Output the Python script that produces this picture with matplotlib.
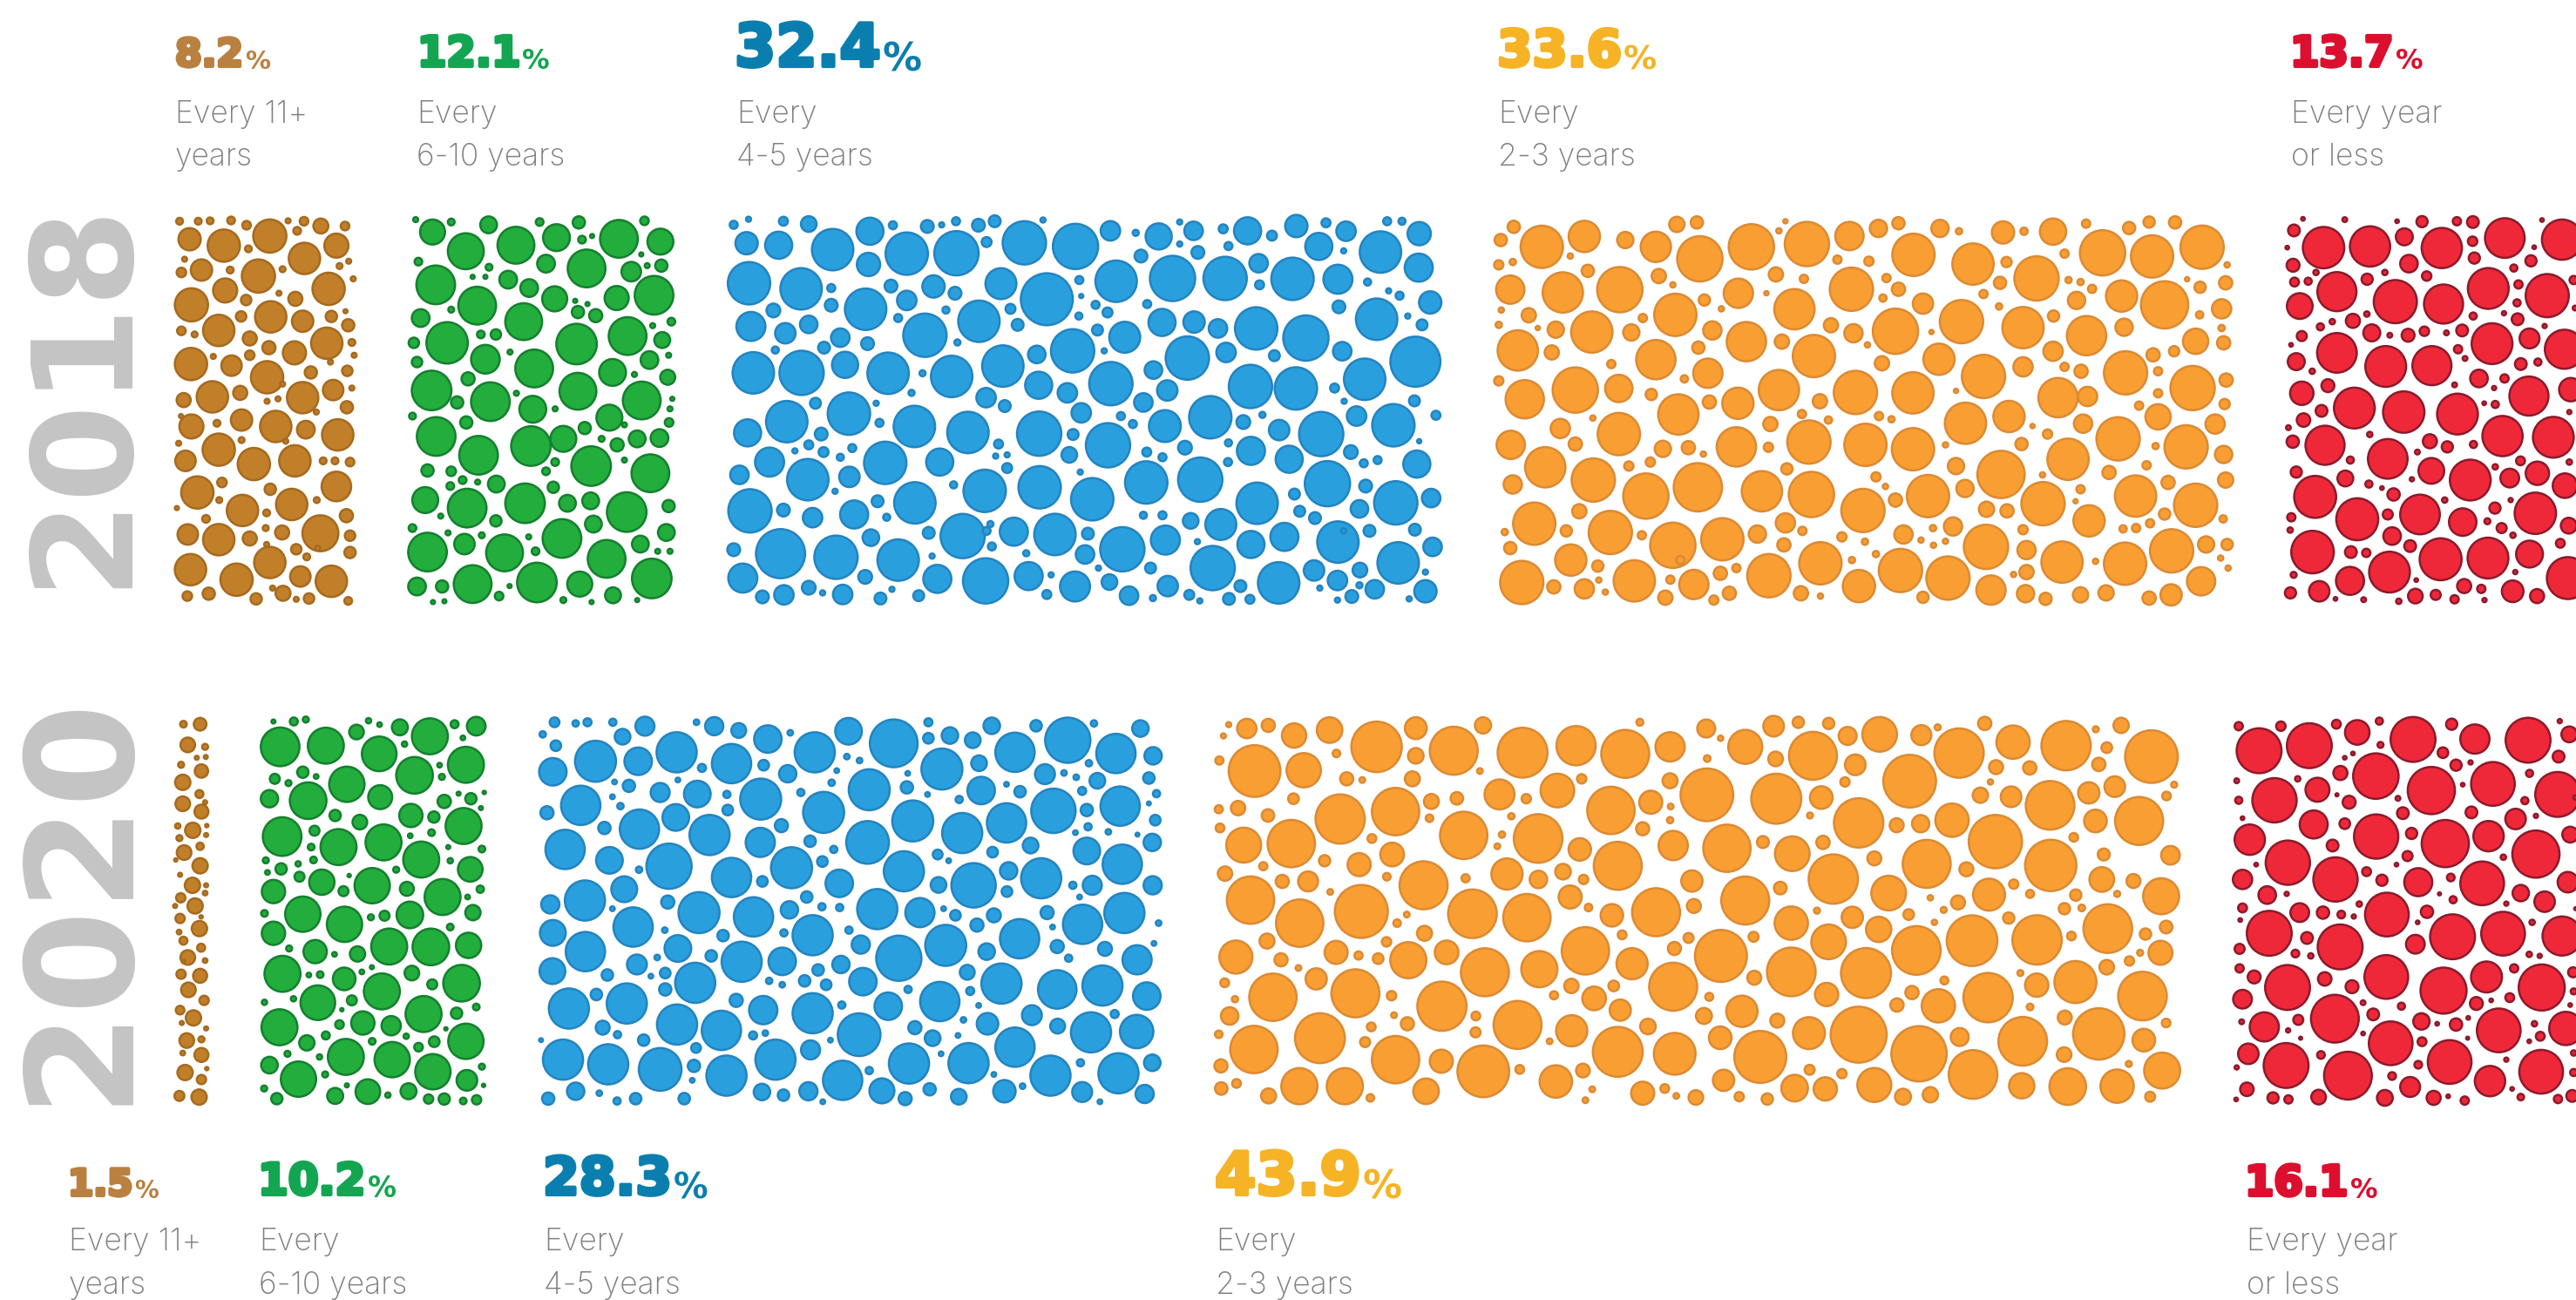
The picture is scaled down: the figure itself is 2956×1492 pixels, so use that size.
"""Bubble blocks: how often people do it, 2018 vs 2020."""
import matplotlib
matplotlib.use("Agg")
import matplotlib.pyplot as plt
import matplotlib.patheffects as pe

W, H = 2956, 1492
PX = 0.72  # points per pixel at dpi 100

# bubbles: (x, y, diameter) in crop units
brown_2018 = [(394,553,12),(435,553,12),(461,552,12),(507,551,14),(541,563,16),(632,552,8),(667,553,16),(704,565,30),(757,565,16),
(416,598,46),(491,614,68),(592,590,70),(652,577,14),(738,614,50),(668,646,66),(545,622,12),(405,648,8),
(442,675,44),(398,681,18),(567,690,70),(505,675,12),(620,673,10),(721,722,68),(745,665,10),(765,653,8),(775,697,8),
(494,726,50),(420,762,70),(540,750,20),(648,747,28),(612,733,8),(594,792,66),(529,791,20),(664,803,44),(727,791,22),(764,813,24),(758,778,6),
(480,826,66),(398,827,16),(427,836,10),(548,846,28),(717,858,66),(590,869,26),(646,882,48),(772,856,12),(777,888,8),
(419,910,68),(508,914,42),(548,888,18),(586,943,68),(468,891,8),(682,931,24),(762,927,20),(725,905,8),
(466,992,66),(403,1000,28),(527,982,28),(664,994,66),(731,975,42),(772,970,8),(620,960,8),(586,1003,8),(610,997,8),(761,1018,24),
(420,1066,50),(530,1050,44),(605,1066,66),(476,1058,12),(671,1074,36),(741,1087,66),(694,1030,8),(397,1040,6),(392,1108,8),
(480,1124,68),(407,1152,42),(557,1160,68),(647,1152,66),(530,1100,10),(709,1152,12),(735,1152,12),(768,1155,16),(627,1103,8),
(433,1231,68),(487,1206,18),(593,1223,22),(738,1216,62),(532,1276,66),(640,1261,66),(481,1250,10),(695,1250,10),(388,1270,6),(585,1282,12),(760,1289,26),
(452,1297,14),(412,1336,42),(480,1349,66),(548,1346,28),(619,1331,28),(703,1333,76),(583,1320,10),(768,1339,20),(768,1381,22),(650,1373,20),(585,1361,8),
(418,1424,66),(519,1449,68),(592,1406,66),(659,1441,42),(727,1453,66),(673,1392,12),(697,1370,8),
(411,1490,18),(458,1484,24),(562,1497,22),(621,1483,30),(678,1496,20),(764,1502,14),(650,1498,8),(598,1470,8)]

green_2018 = [(912,549,8),(949,580,52),(990,555,12),(1072,562,34),(1184,555,14),(1270,556,24),(1414,552,16),(1022,628,76),(1132,613,78),(1221,594,56),(1277,599,14),(1358,597,80),(1449,604,54),(1299,590,6),
(918,654,14),(956,712,82),(1198,659,36),(1287,671,80),(1385,679,40),(1451,664,24),(1420,664,8),(1407,636,6),(1073,668,12),
(1115,699,36),(1161,720,36),(1037,692,6),(1065,692,6),(1047,764,80),(1217,747,52),(1353,745,50),(1435,738,82),(990,774,10),
(1149,804,78),(923,795,36),(1268,780,24),(1307,789,26),(1262,752,6),(1289,760,6),(1377,840,80),
(1055,836,14),(1088,836,20),(981,857,88),(1265,860,86),(908,857,20),(1453,850,32),(1473,804,14),(1432,814,8),(1065,898,60),(1172,921,80),(1119,880,8),(1425,900,36),(915,905,20),(1467,888,8),(1344,931,56),(1027,947,26),
(947,976,84),(1465,943,30),(1392,936,8),(1076,1004,82),(1268,978,78),(1408,1001,80),(1003,1006,24),(1169,1023,56),(1133,983,8),(1475,997,6),(1470,1022,8),
(1337,1044,54),(1023,1056,24),(957,1091,82),(905,1040,12),(1468,1056,16),(1218,1022,8),(1283,1070,24),(1236,1097,54),(1165,1115,84),(1050,1138,82),(1354,1112,26),(1398,1097,34),(1447,1095,36),(1320,1097,10),(1370,1062,8),
(1297,1165,84),(1427,1183,80),(1218,1155,14),(1370,1150,8),(1198,1178,14),(938,1176,24),(990,1178,18),(1015,1200,14),(1089,1210,34),(988,1215,14),(1214,1218,22),(1048,1205,8),
(933,1250,54),(1025,1270,82),(1152,1258,84),(1245,1258,34),(1296,1252,34),(1375,1280,84),(1467,1265,24),(1088,1302,22),(967,1290,8),(1302,1310,34),(1233,1346,82),
(905,1320,14),(1019,1360,42),(938,1380,82),(1107,1382,78),(983,1332,8),(1057,1338,10),(1175,1378,14),(1331,1397,80),(1462,1331,34),(1405,1360,34),(1160,1342,8),(1443,1378,8),(1470,1378,8),
(1037,1460,80),(1178,1456,84),(915,1466,36),(970,1466,24),(1272,1460,52),(1430,1446,84),(1345,1488,32),(1095,1490,16),(1118,1465,6),(1236,1500,10),(975,1503,6),(950,1505,6),(1398,1500,6),(1298,1505,6)]

blue_2018 = [(40,562,14),(71,548,8),(144,553,16),(197,560,30),(325,578,54),(373,563,14),(445,566,24),(475,562,8),(505,553,14),(552,563,24),(586,553,22),(687,550,8),(67,608,44),(134,613,54),(247,624,84),(402,634,86),(506,633,90),(322,661,46),(569,605,18),(648,607,88),(755,616,92),(828,577,38),(881,582,10),(929,591,52),(973,555,8),(1002,577,36),(973,610,8),(1011,631,24),(892,640,24),(1064,572,16),(1115,577,54),(1166,589,18),(1075,615,14),(1217,565,44),(1279,557,16),(1321,578,38),(1407,553,14),(1438,553,12),(1474,584,46),(1264,616,54),(1316,627,8),(1393,630,84),
(72,708,86),(181,722,84),(244,720,14),(369,715,24),(458,716,44),(599,709,62),(695,748,106),(503,733,24),(763,700,14),(840,703,84),(958,696,92),(1068,696,88),(1138,658,36),(1140,712,16),(1209,697,86),(1304,698,58),(1473,669,56),(1366,705,12),(1410,727,8),(1433,739,14),
(244,763,24),(316,773,84),(402,751,38),(123,776,26),(76,816,58),(148,833,40),(197,811,34),(384,795,14),(484,775,12),(440,838,88),(553,803,84),(619,772,18),(634,812,22),(767,740,6),(762,790,12),(797,762,14),(822,781,18),(905,760,14),(1306,767,24),(1385,798,84),(1497,756,44),(1450,790,8),(1480,812,20),
(263,844,36),(320,859,24),(229,869,22),(127,875,12),(508,856,10),(801,825,20),(858,843,62),(749,877,88),(815,877,8),(936,806,54),(1003,805,42),(1053,821,36),(1133,821,86),(1237,845,92),(1070,881,38),(989,895,88),(1171,889,20),(1313,878,36),(1466,904,102),
(81,932,84),(182,932,90),(273,912,52),(363,933,84),(603,915,84),(674,886,34),(496,941,84),(435,933,10),(678,963,54),(829,959,88),(918,925,34),(947,976,40),(738,982,38),(1121,966,88),(1216,971,86),(1297,970,16),(1360,948,84),(412,982,10),
(568,994,38),(607,1015,22),(211,1008,20),(338,1008,8),(897,1006,36),(1317,1003,8),(1464,1002,20),(767,1032,38),(1037,1043,86),(850,1040,14),(875,1060,14),(942,1065,64),(1106,1055,26),(1146,1037,10),(1181,1075,40),(1269,1085,90),(1343,1040,38),(1420,1063,86),(1509,1038,16),
(151,1054,84),(281,1034,86),(69,1082,54),(345,1057,14),(418,1066,84),(530,1081,84),(679,1084,90),(823,1113,90),(750,1086,20),(223,1085,24),(984,1119,26),(1075,1107,12),(1474,1103,6),
(197,1112,16),(228,1130,18),(168,1127,8),(288,1120,14),(263,1143,12),(594,1110,16),(588,1140,8),(612,1137,8),(742,1137,30),(904,1130,16),(937,1143,14),(1122,1127,56),(1202,1148,54),(1331,1130,26),(1387,1150,14),(1358,1158,14),(1469,1160,54),
(115,1155,58),(357,1157,86),(471,1155,54),(52,1187,36),(195,1199,84),(282,1192,40),(612,1170,18),(765,1180,8),(1074,1155,14),(903,1206,86),(1016,1199,90),(1282,1209,92),(565,1227,86),(680,1218,86),(790,1248,86),(500,1212,12),(252,1228,8),(1362,1215,24),(1213,1235,20),
(74,1277,88),(419,1257,84),(1135,1258,84),(1425,1257,88),(1499,1245,36),(341,1253,22),(144,1275,24),(205,1294,38),(292,1286,56),(1349,1272,34),(1224,1278,20),(1256,1295,22),(360,1293,12),(897,1288,12),(937,1288,14),(996,1302,30),(1059,1311,62),
(448,1332,22),(519,1340,90),(577,1310,10),(626,1329,56),(712,1336,84),(327,1344,32),(781,1334,22),(569,1327,14),(1304,1355,84),(1192,1342,56),(1370,1327,22),(1465,1324,22),(1316,1327,8),(943,1350,58),(853,1373,90),(1122,1361,54),(1010,1354,8),
(40,1374,24),(138,1384,100),(254,1393,88),(384,1400,84),(580,1366,14),(1502,1367,36),(652,1383,10),(775,1386,36),(455,1390,8),(1042,1420,90),(1430,1407,84),
(59,1445,58),(315,1442,26),(466,1447,56),(567,1452,92),(657,1440,56),(754,1466,60),(912,1420,20),(803,1420,8),(704,1437,8),(1180,1457,84),(1254,1426,40),(1303,1451,38),(1350,1425,28),(826,1455,30),(948,1465,40),(1100,1465,22),(1487,1430,8),
(100,1492,24),(145,1487,38),(197,1469,26),(226,1482,8),(268,1486,38),(347,1496,22),(371,1473,8),(427,1489,20),(695,1486,16),(867,1489,36),(917,1495,10),(993,1487,18),(1015,1502,8),(1076,1497,22),(1120,1498,16),(1349,1463,10),(1381,1473,36),(1333,1491,24),(1303,1500,8),(1266,1470,8),(1487,1478,44),(1453,1497,8)]

orange_2018 = [(82,567,22),(56,600,22),(138,617,82),(223,591,60),(305,600,30),(366,617,58),(408,561,28),(448,556,22),(454,647,88),(557,617,88),(668,610,86),(612,577,8),(625,553,6),(753,590,54),(811,571,32),(851,558,22),(881,637,82),(934,571,32),(972,578,10),(1000,660,80),(1060,581,42),(1102,578,12),(1160,579,50),(1226,559,14),(1259,632,88),(1312,570,22),(1352,555,20),(1404,556,22),(1358,641,82),(1458,618,84),
(52,662,16),(80,655,10),(75,724,54),(180,731,78),(294,724,88),(230,677,22),(372,690,26),(606,686,26),(662,697,14),(729,649,14),(792,653,16),(757,723,84),(1067,655,18),(1127,696,86),(1183,634,14),(1054,707,22),(827,695,14),(851,723,24),(820,745,12),(1191,700,10),(1215,705,10),(1238,722,14),(1297,740,60),(1383,762,92),(1454,718,20),(1505,707,24),(1508,662,8),(1428,698,6),(400,712,8),
(531,733,56),(463,750,20),(405,787,82),(643,773,78),(900,759,38),(977,804,84),(1021,735,14),(1052,766,10),(1207,751,32),(1497,772,36),(1453,787,12),(195,640,8),(497,772,8),(587,733,6),(57,775,8),
(112,788,26),(238,830,80),(166,824,30),(317,831,30),(340,795,14),(479,826,34),(547,854,76),(716,813,26),(761,833,34),(845,828,88),(1100,819,80),(1227,839,76),(1161,790,20),(1302,818,32),(917,830,6),(130,820,6),(52,812,10),
(90,876,78),(158,881,26),(366,899,76),(451,869,22),(618,854,26),(682,890,82),(789,862,8),(1445,853,48),(1501,857,24),(1497,820,10),(1160,878,36),(932,898,60),(1021,941,84),(1100,917,36),(818,908,26),(1402,878,18),(1360,887,24),(470,933,56),(277,910,14),(1183,917,14),(1216,928,24),(1305,932,84),(1370,928,14),
(52,952,16),(205,975,88),(104,998,74),(292,971,52),(423,947,12),(612,975,78),(765,981,84),(880,982,80),(1170,994,76),(1439,970,86),(1506,950,24),(357,986,20),(1370,983,14),(966,977,6),
(411,1036,78),(530,1008,60),(473,1005,24),(694,1003,26),(1229,991,36),(1503,1010,18),(1332,1014,14),(1370,1042,48),(240,1045,8),(658,1035,14),(812,1040,14),(837,1048,10),(711,1050,12),(985,1058,80),(1072,1041,60),
(175,1071,36),(292,1085,82),(595,1060,26),(1220,1059,34),(1290,1097,84),(1484,1060,36),(1119,1065,6),
(76,1112,54),(205,1110,24),(380,1122,30),(431,1119,24),(461,1135,8),(527,1117,76),(591,1118,16),(672,1105,84),(785,1112,82),(880,1123,82),(1149,1085,16),(1097,1110,22),(945,1112,8),(1426,1117,84),(1365,1115,10),
(145,1168,78),(241,1200,84),(312,1165,16),(355,1155,16),(346,1240,88),(450,1218,94),(1190,1148,80),(966,1165,30),(1056,1186,92),(1501,1136,32),(1347,1163,14),(1139,1187,8),(628,1172,20),(1272,1181,24),
(80,1211,34),(578,1228,78),(677,1236,88),(806,1192,16),(825,1216,8),(910,1240,82),(984,1221,32),(1140,1259,84),(1325,1240,80),(1390,1206,24),(1505,1200,28),(1215,1223,14),(1205,1253,6),(1445,1263,84),
(123,1309,82),(213,1278,26),(780,1276,84),(845,1250,24),(1027,1273,28),(1068,1277,24),(1232,1302,60),(1383,1285,20),(1500,1297,12),
(275,1331,84),(187,1327,20),(400,1363,88),(499,1348,82),(625,1307,36),(659,1327,14),(569,1335,32),(338,1338,14),(64,1330,10),(960,1316,34),(920,1320,10),(861,1336,34),(1026,1367,86),(1100,1324,16),(1300,1322,12),(1326,1320,14),(1354,1308,14),(738,1342,16),
(75,1370,22),(196,1400,60),(622,1362,24),(784,1354,10),(806,1385,10),(896,1350,8),(921,1363,8),(945,1353,8),(695,1408,82),(1107,1375,34),(1178,1405,80),(1397,1377,84),(1304,1409,82),(1466,1361,30),(1508,1361,20),
(98,1456,84),(250,1415,20),(323,1452,80),(415,1400,14),(442,1461,56),(495,1433,24),(527,1420,14),(592,1439,84),(855,1426,84),(950,1445,84),(772,1465,62),(758,1400,10),(1107,1430,26),(1495,1395,8),(1245,1403,8),(1510,1420,8),(1081,1436,8),
(162,1467,24),(223,1472,36),(252,1450,8),(265,1480,8),(395,1449,14),(385,1494,26),(482,1500,16),(513,1483,24),(656,1483,26),(695,1490,8),(900,1493,20),(1036,1475,56),(1105,1484,32),(1145,1497,22),(1215,1487,28),(1266,1482,28),(1352,1495,24),(1396,1487,40),(1456,1453,54)]

red_2018 = [(158,547,8),(302,549,12),(127,576,36),(229,619,138),(389,616,134),(507,592,54),(636,620,134),(853,595,132),(1050,599,134),(568,554,34),(482,553,8),(688,553,24),(743,555,36),(742,603,28),(981,550,8),(104,619,8),(954,618,8),(124,663,40),(523,659,56),(748,645,34),(943,652,34),(884,670,20),
(129,705,26),(176,703,20),(203,681,14),(275,729,130),(379,698,34),(440,681,14),(584,690,28),(476,754,144),(642,760,130),(796,721,136),(900,711,24),(999,739,144),(1090,700,24),(147,765,84),(378,785,14),(744,790,20),(895,757,20),(850,783,10),(897,798,36),(1095,770,12),
(218,817,20),(259,804,14),(330,802,44),(395,832,54),(457,838,12),(520,838,40),(576,828,28),(652,832,12),(706,826,36),(154,840,30),(275,882,132),(443,916,136),(602,914,130),(809,859,136),(938,846,64),(990,815,10),(1058,873,130),(117,862,8),(692,873,24),(135,904,54),(716,896,12),
(190,928,14),(908,910,36),(967,905,20),(764,946,56),(852,946,24),(244,964,40),(154,983,76),(680,962,12),(816,970,10),(936,990,130),(1080,974,76),
(335,1020,136),(505,1030,138),(690,1035,136),(222,1027,36),(160,1050,42),(820,1011,20),(782,1008,8),(1075,1030,10),(108,1069,12),(123,1104,38),(234,1113,130),(388,1086,14),(450,1147,132),(595,1103,44),(655,1117,34),(745,1111,20),(845,1090,134),(1020,1093,136),(552,1130,12),
(135,1180,34),(321,1150,20),(304,1196,50),(385,1210,20),(600,1177,84),(734,1200,136),(820,1167,14),(870,1195,60),(965,1183,76),(907,1152,26),(1075,1155,14),(1060,1214,80),(430,1220,8),(533,1198,10),
(200,1242,140),(470,1236,38),(345,1298,140),(561,1286,132),(450,1286,30),(646,1250,14),(873,1250,10),(708,1305,90),(819,1270,34),(958,1283,138),(793,1303,16),(842,1320,30),(1073,1314,50),(118,1293,24),(114,1325,14),
(191,1380,142),(465,1340,56),(527,1365,36),(881,1338,14),(323,1380,36),(376,1382,24),(1044,1358,26),(632,1398,140),(795,1395,136),(938,1385,88),(1070,1445,140),(456,1430,136),(320,1452,92),
(126,1437,16),(115,1482,34),(214,1478,66),(270,1497,8),(367,1499,12),(488,1503,14),(545,1490,46),(615,1487,30),(548,1450,8),(680,1498,24),(713,1465,44),(772,1472,24),(783,1500,10),(880,1478,70),(964,1490,44),(889,1430,10)]

brown_2020 = [(550,92,16),(600,92,34),(563,145,40),(615,150,14),(590,178,8),(617,176,8),(604,212,36),(543,196,14),(548,241,42),(598,271,20),(548,296,40),(604,316,38),(615,292,8),(578,364,42),(533,353,12),(538,384,14),(620,352,6),(618,376,8),(552,421,40),(600,405,18),(527,440,6),(600,455,42),(540,478,8),(577,505,42),(618,505,8),(542,537,24),(615,525,10),(585,558,42),(525,558,8),(540,590,24),(598,616,42),(603,586,6),(550,647,20),(537,625,10),(603,665,20),(563,690,40),(615,698,10),(543,733,24),(600,737,38),(565,773,40),(550,700,6),(612,800,24),(540,825,22),(580,845,42),(545,858,8),(618,872,8),(560,903,40),(604,900,14),(548,935,10),(604,940,38),(555,985,42),(604,1003,24),(538,1045,26),(597,1048,42),(620,975,6)]

green_2020 = [(820,85,8),(881,85,20),(917,80,14),(840,150,112),(977,147,104),(1069,112,40),(1105,83,12),(1138,93,10),(1199,100,44),(1289,123,104),(1363,92,20),(1428,97,52),(1388,127,10),(1137,168,100),(1213,143,12),(1397,196,104),(1243,223,106),(1318,197,10),(1325,227,14),(824,232,26),(908,215,30),(948,226,10),(865,243,14),(1040,246,102),(1140,279,68),(808,283,48),(924,288,106),(1332,290,36),(1412,283,30),(1375,270,8),(1452,267,6),(1442,307,8),(1005,326,30),(1079,343,40),(1232,326,66),(1301,330,30),(1390,353,104),(846,380,112),(1015,407,104),(1150,395,104),(943,365,26),(1230,378,10),(1294,370,16),(933,407,16),(1344,407,8),(1263,439,104),(1445,412,16),(1188,465,14),(797,441,14),(894,450,12),(940,440,16),(843,463,30),(802,472,10),(1350,442,12),(1410,464,70),(898,483,26),(965,497,72),(1116,506,102),(1047,480,6),(1030,520,26),(1220,514,38),(1327,535,104),(1440,515,18),(820,521,66),(1402,535,10),(908,579,102),(793,577,16),(1033,605,102),(1112,587,14),(1153,583,26),(1229,581,76),(1418,575,42),(1350,612,16),(820,628,66),(1167,662,104),(1292,663,106),(1405,659,72),(867,667,14),(945,675,66),(1003,682,10),(1072,681,42),(847,732,104),(926,735,10),(960,734,16),(1032,745,64),(1115,715,8),(1085,727,10),(1235,730,40),(1296,759,26),(1384,756,106),(1145,777,104),(880,796,12),(793,805,12),(953,806,100),(1055,800,26),(1025,824,6),(838,869,104),(1088,858,66),(1018,862,22),(1173,865,54),(1270,835,104),(1369,833,30),(1428,817,16),(1337,873,6),(1397,905,102),(977,890,20),(920,909,42),(1218,892,12),(1116,905,16),(1255,920,22),(1302,906,28),(862,937,14),(958,945,12),(1037,945,104),(1176,952,102),(808,966,46),(1298,983,102),(1445,970,14),(895,1002,102),(975,990,14),(1400,1005,58),(792,1026,14),(1040,1018,8),(1103,1034,70),(830,1052,30),(1005,1045,44),(1163,1043,12),(1225,1033,44),(1285,1053,24),(1332,1053,30),(1389,1058,16),(1429,1055,24),(1450,1018,6)]

blue_2020 = [(75,87,20),(125,90,12),(153,87,16),(213,87,14),(289,97,42),(236,124,34),(47,118,12),(78,147,22),(411,87,10),(453,97,40),(511,108,32),(633,114,10),(580,130,62),(771,110,60),(878,141,110),(960,87,16),(960,128,22),(1011,121,36),(1065,133,34),(1110,96,36),(1215,96,24),(1290,133,104),(1352,90,12),(1462,103,36),(1165,164,90),(1404,167,90),(172,187,94),(364,164,92),(71,214,62),(273,187,62),(494,193,90),(691,164,92),(767,175,10),(797,185,10),(570,197,22),(424,204,16),(627,219,38),(1492,173,38),(992,207,94),(1080,192,34),(1340,192,12),(1236,220,44),(1281,217,10),(1310,228,10),(1360,237,34),(1482,230,24),(743,211,8),(911,218,8),
(217,240,8),(251,250,26),(367,235,8),(731,242,12),(820,260,94),(909,254,26),(1085,262,62),(1145,246,8),(1177,265,24),(958,272,8),(1033,285,14),(1324,263,16),(1500,270,14),(325,267,42),(413,271,60),(483,272,14),(563,284,94),(658,267,14),(137,300,90),(212,278,8),(231,302,12),(712,318,94),(1256,314,102),(1414,302,90),(1335,312,26),(1482,295,6),(57,319,28),(485,312,22),(362,331,60),(923,340,94),(1145,345,90),(276,361,90),(193,358,26),(1040,371,92),(612,352,28),(1338,355,14),(1497,338,22),(1308,370,8),(1386,368,10),(1455,375,6),
(442,376,92),(562,395,66),(816,395,98),(680,392,24),(100,413,90),(1202,403,34),(1490,395,38),(1335,417,60),(1112,420,22),(736,413,14),(982,426,20),(205,441,60),(346,456,104),(636,460,94),(709,444,22),(902,469,92),(1008,442,8),(1419,451,90),(1150,468,38),(1227,487,92),(275,465,12),(494,485,90),(1067,505,102),(567,495,22),(749,500,62),(984,504,34),(1146,521,22),
(240,515,58),(1491,505,40),(1302,505,14),(1348,505,42),(147,544,92),(65,554,40),(343,548,28),(839,566,92),(1318,535,8),(1424,576,92),(672,535,24),(417,575,94),(546,586,90),(631,568,38),(708,560,14),(750,562,14),(940,575,66),(212,565,8),(996,565,8),(1024,582,22),(1115,582,30),(1241,575,28),(1254,612,8),(1325,605,90),(1505,602,10),
(261,612,90),(71,627,58),(686,633,92),(1075,607,28),(1176,642,90),(336,620,10),(474,634,24),(618,627,14),(772,620,14),(148,675,90),(367,667,60),(800,657,40),(1001,659,94),(890,692,104),(446,686,24),(318,690,10),(1098,675,36),(1265,662,28),(1378,668,30),(1454,696,66),(1494,654,8),(270,708,44),(518,701,92),(614,700,62),(753,708,38),(1292,692,14),
(70,725,58),(200,735,24),(337,730,22),(303,738,8),(408,755,92),(699,722,24),(667,750,24),(583,750,12),(614,760,10),(718,760,22),(805,752,62),(1052,728,32),(1133,757,92),(1265,772,88),(1372,762,92),(174,785,24),(337,772,26),(912,772,14),(1059,776,16),(246,808,92),(1477,789,62),(109,821,92),(505,800,28),(569,825,64),(686,833,92),(865,815,62),(987,803,90),(755,812,14),(1079,813,8),(1205,838,44),(1401,835,16),
(365,862,92),(470,877,90),(189,870,30),(224,888,14),(1043,850,10),(1100,860,48),(1266,866,32),(1345,882,92),(1453,880,76),(928,870,28),(545,890,16),(574,884,10),(796,888,98),(286,902,24),(970,897,34),(1030,890,8),(1165,920,90),(728,902,8),(43,902,6),(410,922,20),(681,927,42),
(95,952,92),(202,964,92),(325,977,98),(482,993,92),(598,952,92),(914,962,92),(1055,961,92),(405,968,26),(990,937,8),(1490,960,36),(1320,960,14),(1410,987,92),(401,1005,8),(757,1005,90),(820,980,14),(1249,993,92),(1115,990,8),
(125,1033,38),(60,1052,26),(181,1038,10),(223,1058,14),(267,1052,24),(382,1052,24),(566,1035,36),(617,1043,24),(676,1033,40),(710,1060,8),(850,1032,56),(905,1052,28),(963,1028,26),(1032,1047,34),(1140,1033,50),(1183,1020,10),(1324,1035,44),(1366,1060,8),(1472,1040,40)]

orange_2020_left = [(112,93,12),(95,122,12),(170,103,58),(239,95,38),(322,121,74),(436,107,78),(587,150,158),(713,102,66),(929,95,48),(835,160,150),(1056,165,156),(1228,147,122),(1386,168,150),(1433,87,18),(1530,150,90),(458,167,20),(713,173,46),(82,185,22),(195,212,162),(353,210,106),(491,232,38),(541,235,14),(702,232,44),(919,212,14),(1168,262,104),(1246,232,26),(1530,237,44),(320,283,30),(982,272,92),(1068,283,26),(763,290,44),(845,282,36),(1340,313,148),(1468,292,70),(80,310,22),(142,307,42),(238,326,36),(470,335,154),(648,316,148),(757,333,20),(1532,303,14),(1530,338,16),(84,358,24),(867,377,148),(1020,328,16),(1106,385,152),(1442,360,38),(160,402,108),(313,398,148),(572,385,24),(990,375,16),(975,405,14),(1540,403,90),(637,426,72),(1240,413,68),(420,442,32),(531,452,70),(1362,455,150),(223,456,22),(100,475,42),(1006,476,96),(1186,470,46),(1107,490,52),(620,483,20),(738,505,150),(284,495,38),(367,495,60),(873,487,22),(1252,490,26),(182,543,148),(438,522,14),(538,572,166),(895,578,152),(1209,535,70),(1070,588,148),(1268,562,20),(340,602,148),(1343,582,68),(1485,574,150),(684,580,14),(653,602,20),(741,628,44),(1376,632,24),(235,648,44),(619,650,26),(135,689,102),(457,677,70),(812,677,72),(689,697,112),(529,685,22),(592,693,30),(280,696,38),(1258,673,148),(1544,667,38),(336,717,14),(935,728,150),(1110,720,112),(1408,706,96),(99,755,24),(393,745,64),(1213,763,42),(1349,763,30),(1540,765,150),(254,792,148),(519,782,150),(635,788,26),(797,815,154),(1157,787,22),(1286,795,72),(132,797,16),(115,840,52),(1370,825,64),(643,838,14),(906,840,24),(1040,863,150),(686,860,38),(570,868,24),(80,887,20),(1214,878,96),(905,882,28),(405,897,156),(1459,867,46),(193,926,148),(550,907,28),(648,952,148),(1143,905,14),(1362,932,156),(1545,937,130),(795,956,70),(930,982,162),(87,968,38),(1047,977,24),(1163,1008,100),(1250,980,40),(88,1026,36),(137,1013,24),(339,1020,112),(485,1020,112),(240,1045,44),(746,1033,78),(567,1050,20),(1280,1028,14),(1442,1038,70),(1258,1056,14),(1513,1026,24),(1550,1045,14)]

orange_2020_right = [(73,103,50),(116,128,12),(275,97,58),(349,87,30),(440,90,30),(497,122,50),(593,118,100),(718,120,56),(767,100,14),(908,90,36),(1317,95,42),(1241,105,14),(1274,152,28),(1408,175,154),(1152,147,144),(993,138,96),(831,166,144),(190,150,98),(393,173,140),(281,181,40),(76,180,16),(520,196,58),(683,238,154),(942,202,38),(1043,204,36),(1250,195,36),(75,273,154),(283,283,146),(489,240,24),(925,240,12),(418,280,64),(895,274,42),(987,278,58),(1104,300,142),(1220,268,60),(1298,252,58),(1476,247,14),(1453,276,22),(384,326,14),(530,345,144),(644,351,38),(716,347,48),(810,338,96),(1240,340,64),(1371,340,140),(940,393,156),(135,410,138),(243,394,32),(331,424,100),(423,395,36),(1175,382,22),(734,450,140),(577,436,38),(1106,454,150),(1265,426,32),(1465,428,52),(454,489,144),(853,464,38),(30,494,60),(1259,490,70),(1354,494,38),(190,544,140),(295,512,34),(620,525,100),(921,529,92),(995,502,24),(1044,527,20),(1181,530,30),(1305,527,14),(1437,533,104),(36,558,38),(745,537,12),(828,549,38),(785,568,14),(405,570,14),(1147,565,30),(1199,563,16),(511,587,60),(328,602,96),(680,580,28),(1277,616,142),(980,589,30),(590,618,72),(757,600,12),(440,650,100),(870,647,148),(1065,645,144),(20,640,26),(215,637,26),(1168,635,22),(1390,630,30),(1452,612,34),(117,686,152),(703,672,142),(1435,678,68),(1374,678,14),(1342,699,24),(328,727,142),(552,730,146),(217,742,38),(1274,715,40),(1180,753,122),(1015,730,14),(1064,761,66),(787,749,20),(434,785,66),(690,780,36),(918,793,144),(1381,789,142),(82,791,20),(769,814,96),(645,812,36),(180,828,90),(66,840,44),(286,852,38),(1044,817,16),(1148,844,38),(1452,858,22),(381,884,92),(530,888,164),(115,896,64),(1250,886,150),(1385,902,64),(235,945,152),(711,937,162),(833,894,50),(1022,905,142),(1146,939,40),(1440,980,104),(1340,963,14),(383,978,26),(480,988,24),(125,1005,60),(338,1025,76),(430,1027,66),(577,1017,98),(873,990,142),(1019,1019,72),(1157,1021,106),(1305,1020,96),(42,1049,40),(172,1047,24),(256,1053,30),(663,1047,44),(745,1042,42),(1404,1047,26)]

red_2020 = [(117,97,24),(262,97,28),(453,92,26),(601,84,20),(187,160,150),(360,147,150),(525,113,80),(717,131,150),(850,92,34),(930,130,96),(1113,133,150),(1222,84,10),(1255,118,50),(605,145,16),(820,165,32),(482,178,8),(510,167,8),(865,197,34),(915,190,10),(1218,175,36),(110,237,12),(240,287,148),(320,232,14),(388,260,78),(467,217,44),(589,225,152),(780,262,158),(992,245,146),(1118,218,20),(1215,272,150),(888,247,8),(455,273,6),(117,287,20),(497,292,40),(665,282,12),(1102,288,20),(1276,280,10),(682,320,36),(918,318,36),(1070,335,66),(1140,327,10),(130,333,8),(375,349,92),(482,347,32),(590,380,148),(712,372,34),(1258,375,50),(155,388,100),(440,403,36),(828,398,158),(977,379,100),(1140,425,158),(286,447,148),(698,430,30),(1028,433,14),(177,452,8),(660,452,8),(450,490,148),(130,490,62),(557,470,26),(610,492,34),(735,497,92),(847,485,22),(955,500,146),(1250,497,66),(215,530,56),(282,527,10),(855,542,20),(1088,525,52),(1170,547,66),(808,527,6),(130,563,26),(627,580,146),(532,553,14),(327,575,60),(407,575,38),(470,580,22),(513,585,10),(765,573,38),(1038,552,10),(1277,565,6),(122,594,8),(733,600,8),(222,628,150),(352,640,36),(466,663,150),(853,637,150),(1027,629,146),(1127,600,14),(1230,635,130),(725,656,60),(120,668,30),(312,680,22),(365,686,14),(1117,682,14),(1153,686,10),(120,718,24),(170,740,40),(285,767,150),(413,745,42),(625,740,146),(1065,718,24),(970,740,102),(822,775,154),(1160,767,154),(507,765,40),(1268,728,30),(130,797,60),(1270,777,16),(545,806,12),(677,815,20),(935,808,40),(986,800,8),(1050,793,26),(1258,812,8),(448,847,160),(580,836,36),(205,868,96),(322,850,30),(746,854,52),(800,860,8),(865,862,38),(907,845,8),(1012,877,146),(1135,860,14),(1243,872,110),(127,855,12),(287,877,10),(330,897,6),(545,885,8),(640,910,146),(748,906,26),(905,897,6),(1117,905,8),(1155,892,26),(150,937,66),(280,967,150),(400,940,22),(843,958,146),(1038,952,10),(1158,983,146),(1270,935,14),(110,972,10),(493,993,160),(735,965,22),(982,1007,100),(1270,985,20),
(645,994,22),(707,1022,64),(145,1028,42),(1058,1027,8),(108,1054,8),(235,1050,34),(288,1054,24),(392,1048,46),(620,1050,50),(788,1050,44),(838,1046,8),(895,1057,24),(1088,1048,18),(1216,1053,24),(1265,1045,36)]

# crop frames: left, top, x scale, y scale
FRAMES = {
    "a": (0, 0, 1.912, 2.178), "b": (820, 0, 1.823, 2.178), "c": (1690, 0, 1.742, 2.178),
    "d": (2590, 0, 3.0, 2.178), "e": (0, 790, 2.613, 2.234), "f": (600, 790, 2.063, 2.234),
    "g": (1370, 790, 2.8, 2.234), "h": (1930, 790, 2.613, 2.234), "i": (2530, 790, 3.0, 2.234),
}

FILL = {"brown": "#c27f2a", "green": "#22ad3d", "blue": "#2a9fdd", "orange": "#f89e33", "red": "#ee2838"}
EDGE = {"brown": "#a66a1e", "green": "#14802e", "blue": "#2384c0", "orange": "#dc8a33", "red": "#8c1a2c"}
TEXT = {"brown": "#b9803f", "green": "#13a551", "blue": "#0a7eaf", "orange": "#f5b325", "red": "#dc0f2e"}

BLOCKS = [
    (brown_2018, "a", "brown"), (green_2018, "a", "green"), (blue_2018, "b", "blue"),
    (orange_2018, "c", "orange"), (red_2018, "d", "red"), (brown_2020, "e", "brown"),
    (green_2020, "e", "green"), (blue_2020, "f", "blue"), (orange_2020_left, "g", "orange"),
    (orange_2020_right, "h", "orange"), (red_2020, "i", "red"),
]

# value, colour, first line, second line, left, baseline, number size (px), label left
labels_2018 = [
    ("8.2", "brown", "Every 11+", "years", 200, 76, 44, 201),
    ("12.1", "green", "Every", "6-10 years", 478, 76, 48, 478),
    ("32.4", "blue", "Every", "4-5 years", 842, 76, 68, 845),
    ("33.6", "orange", "Every", "2-3 years", 1717, 76, 58, 1719),
    ("13.7", "red", "Every year", "or less", 2627, 76, 48, 2629),
]
labels_2020 = [
    ("1.5", "brown", "Every 11+", "years", 77, 1372, 42, 79),
    ("10.2", "green", "Every", "6-10 years", 295, 1371, 50, 297),
    ("28.3", "blue", "Every", "4-5 years", 622, 1371, 60, 624),
    ("43.9", "orange", "Every", "2-3 years", 1393, 1371, 68, 1395),
    ("16.1", "red", "Every year", "or less", 2575, 1372, 48, 2578),
]
years = ["2018", "2020"]
year_spots = [(140, 675), (140, 1268)]
year_sizes = [116, 123]


def draw_block(ax, bubbles, frame, colour):
    left, top, sx, sy = FRAMES[frame]
    xs = [left + b[0] / sx for b in bubbles]
    ys = [top + b[1] / sy for b in bubbles]
    # the reference bubbles read a little larger than their core
    sizes = [((b[2] / sx + 1.5) * PX) ** 2 for b in bubbles]
    ax.scatter(xs, ys, s=sizes, c=FILL[colour], edgecolors=EDGE[colour], linewidths=1.8, zorder=2)


def draw_label(ax, row, line_gap, first_base):
    value, colour, line1, line2, x, base, size, label_x = row
    effect = [pe.withStroke(linewidth=3, foreground=TEXT[colour])]
    num = ax.text(x + 1, base, value, color=TEXT[colour], fontsize=size * PX, fontweight="bold",
                  family="DejaVu Sans", ha="left", va="baseline", path_effects=effect)
    ax.annotate("%", xy=(1, 0), xycoords=num, xytext=(1.5, 0), textcoords="offset points",
                color=TEXT[colour], fontsize=size * PX * 0.66, fontweight="bold",
                family="DejaVu Sans", ha="left", va="bottom")
    ax.text(label_x, first_base, line1, color="#7d7f82", fontsize=25.5, family="Inter",
            fontweight="light", ha="left", va="baseline")
    ax.text(label_x, first_base + line_gap, line2, color="#7d7f82", fontsize=25.5, family="Inter",
            fontweight="light", ha="left", va="baseline")


def main():
    fig = plt.figure(figsize=(W / 100, H / 100), dpi=100)
    ax = fig.add_axes([0, 0, 1, 1])
    ax.set_xlim(0, W)
    ax.set_ylim(H, 0)
    ax.axis("off")

    for bubbles, frame, colour in BLOCKS:
        draw_block(ax, bubbles, frame, colour)

    for year, (x, y), size in zip(years, year_spots, year_sizes):
        ax.text(x, y, year, rotation=90, color="#c4c4c4", fontsize=size, fontweight="bold",
                family="DejaVu Sans", ha="left", va="baseline", rotation_mode="anchor")

    for row in labels_2018:
        draw_label(ax, row, 49, 141)
    for row in labels_2020:
        draw_label(ax, row, 50, 1435)

    fig.savefig("out.png", dpi=100, facecolor="white")
    plt.close(fig)


if __name__ == "__main__":
    main()
